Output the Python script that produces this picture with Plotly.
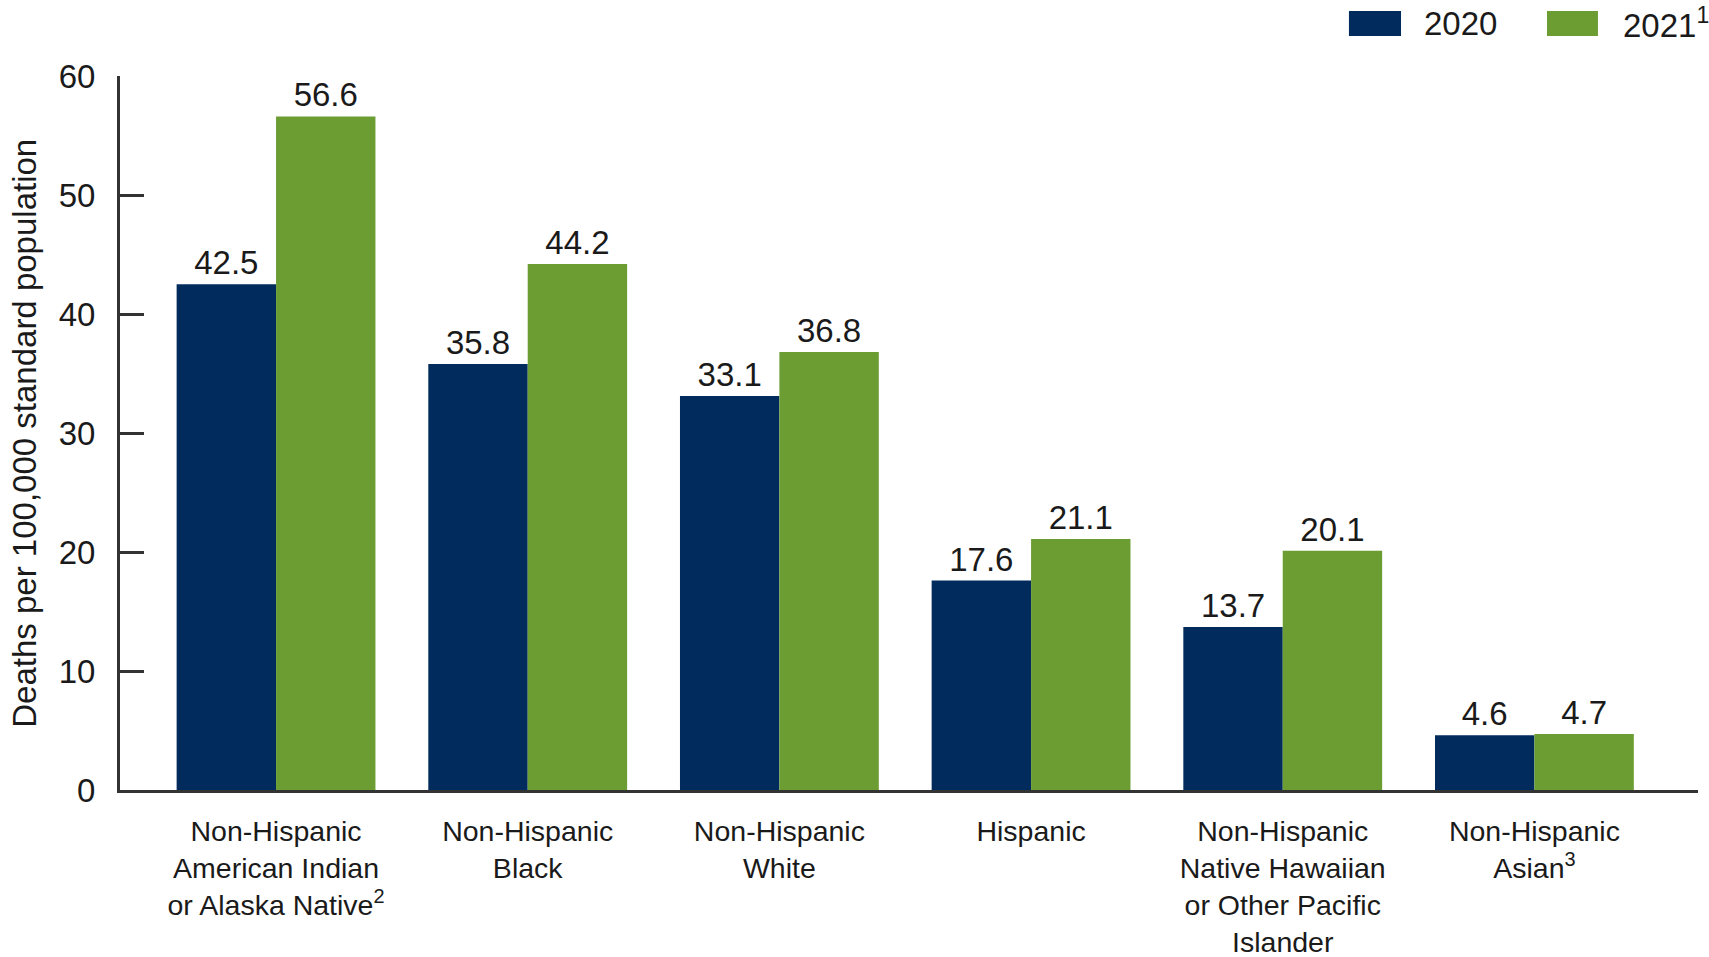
import plotly.graph_objects as go

categories = [
    "Non-Hispanic<br>American Indian<br>or Alaska Native<sup>2</sup>",
    "Non-Hispanic<br>Black",
    "Non-Hispanic<br>White",
    "Hispanic",
    "Non-Hispanic<br>Native Hawaiian<br>or Other Pacific<br>Islander",
    "Non-Hispanic<br>Asian<sup>3</sup>",
]
values_2020 = [42.5, 35.8, 33.1, 17.6, 13.7, 4.6]
values_2021 = [56.6, 44.2, 36.8, 21.1, 20.1, 4.7]
series_names = ["2020", "2021<sup>1</sup>"]
y_ticks = [0, 10, 20, 30, 40, 50, 60]
y_title = "Deaths per 100,000 standard population"

NAVY = "#002B5C"
GREEN = "#6B9D33"
TXT = "#1a1a1a"
FONT = "Liberation Sans, Arial, sans-serif"

fig = go.Figure()
for name, vals, col in [(series_names[0], values_2020, NAVY), (series_names[1], values_2021, GREEN)]:
    fig.add_trace(go.Bar(
        x=list(range(len(categories))), y=vals, name=name,
        marker=dict(color=col, line=dict(width=0)),
        text=[f"{v:.1f}" for v in vals], textposition="outside",
        textfont=dict(size=33, color=TXT, family=FONT),
        cliponaxis=False, showlegend=False,
    ))

# Legend drawn in the top margin (swatches + labels)
legend_items = [
    (series_names[0], NAVY, 0.7788, 0.8118, 0.8251),
    (series_names[1], GREEN, 0.9043, 0.9366, 0.9512),
]
for label, col, sx0, sx1, tx in legend_items:
    fig.add_shape(type="rect", xref="paper", yref="paper",
                  x0=sx0, x1=sx1, y0=1.056, y1=1.091,
                  fillcolor=col, line=dict(width=0))
    fig.add_annotation(xref="paper", yref="paper", x=tx, y=1.074,
                       xanchor="left", yanchor="middle", text=label, showarrow=False,
                       font=dict(size=33, family=FONT, color=TXT))

# Y-axis title
fig.add_annotation(xref="paper", yref="paper", x=-0.061, y=0.5,
                   xanchor="center", yanchor="middle", textangle=-90,
                   text=y_title, showarrow=False,
                   font=dict(size=33, family=FONT, color=TXT))

fig.update_layout(
    width=1709, height=957,
    margin=dict(l=120, r=11, t=76, b=167, autoexpand=False),
    paper_bgcolor="white", plot_bgcolor="white",
    barmode="group", bargap=0.21, bargroupgap=0,
    font=dict(family=FONT, size=32, color=TXT),
    showlegend=False,
    xaxis=dict(
        range=[-0.62, 5.65], tickmode="array",
        tickvals=list(range(len(categories))), ticktext=categories,
        showline=True, linecolor="#333333", linewidth=3, ticks="",
        showgrid=False, zeroline=False, ticklabelstandoff=14, automargin=False,
        tickfont=dict(size=28.5, family=FONT, color=TXT),
    ),
    yaxis=dict(
        range=[0, 60], tickmode="array", tickvals=y_ticks,
        showline=True, linecolor="#333333", linewidth=3,
        ticks="inside", ticklen=24, tickwidth=3, tickcolor="#333333",
        showgrid=False, zeroline=False, ticklabelstandoff=15, automargin=False,
        tickfont=dict(size=33, family=FONT, color=TXT),
    ),
)

fig.write_html("out.html", config={"displayModeBar": False},
               post_script="document.body.style.margin='0';document.body.style.padding='0';")
